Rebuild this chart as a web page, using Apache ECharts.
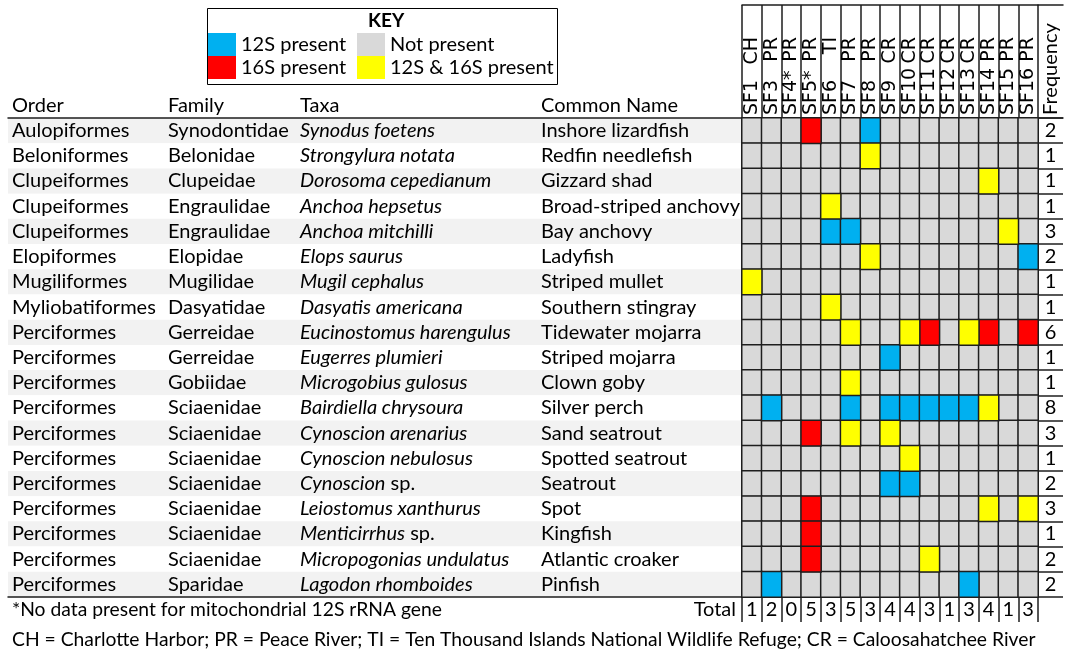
<!DOCTYPE html>
<html>
<head>
<meta charset="utf-8">
<script src="https://cdn.jsdelivr.net/npm/echarts@6/dist/echarts.min.js"></script>
<style>
  html, body { margin: 0; padding: 0; background: #fff; }
  #main { width: 1074px; height: 653px; }
</style>
</head>
<body>
<div id="main"></div>
<script>
// ---- data ----
const orders = ['Aulopiformes', 'Beloniformes', 'Clupeiformes', 'Clupeiformes', 'Clupeiformes', 'Elopiformes',
  'Mugiliformes', 'Myliobatiformes', 'Perciformes', 'Perciformes', 'Perciformes', 'Perciformes', 'Perciformes',
  'Perciformes', 'Perciformes', 'Perciformes', 'Perciformes', 'Perciformes', 'Perciformes']
const families = ['Synodontidae', 'Belonidae', 'Clupeidae', 'Engraulidae', 'Engraulidae', 'Elopidae', 'Mugilidae',
  'Dasyatidae', 'Gerreidae', 'Gerreidae', 'Gobiidae', 'Sciaenidae', 'Sciaenidae', 'Sciaenidae', 'Sciaenidae',
  'Sciaenidae', 'Sciaenidae', 'Sciaenidae', 'Sparidae']
const taxa = ['Synodus foetens', 'Strongylura notata', 'Dorosoma cepedianum', 'Anchoa hepsetus', 'Anchoa mitchilli',
  'Elops saurus', 'Mugil cephalus', 'Dasyatis americana', 'Eucinostomus harengulus', 'Eugerres plumieri',
  'Microgobius gulosus', 'Bairdiella chrysoura', 'Cynoscion arenarius', 'Cynoscion nebulosus', 'Cynoscion sp.',
  'Leiostomus xanthurus', 'Menticirrhus sp.', 'Micropogonias undulatus', 'Lagodon rhomboides']
const commonNames = ['Inshore lizardfish', 'Redfin needlefish', 'Gizzard shad', 'Broad-striped anchovy', 'Bay anchovy',
  'Ladyfish', 'Striped mullet', 'Southern stingray', 'Tidewater mojarra', 'Striped mojarra', 'Clown goby',
  'Silver perch', 'Sand seatrout', 'Spotted seatrout', 'Seatrout', 'Spot', 'Kingfish', 'Atlantic croaker', 'Pinfish']

const sites = ['SF1', 'SF3', 'SF4*', 'SF5*', 'SF6', 'SF7', 'SF8', 'SF9', 'SF10', 'SF11', 'SF12', 'SF13', 'SF14', 'SF15', 'SF16']
const regions = ['CH', 'PR', 'PR', 'PR', 'TI', 'PR', 'PR', 'CR', 'CR', 'CR', 'CR', 'CR', 'PR', 'PR', 'PR']

// 0 = not present, 1 = 12S, 2 = 16S, 3 = 12S & 16S (one string per taxon, one char per site)
const detections = [
  '000200100000000',
  '000000300000000',
  '000000000000300',
  '000030000000000',
  '000011000000030',
  '000000300000001',
  '300000000000000',
  '000030000000000',
  '000003003203202',
  '000000010000000',
  '000003000000000',
  '010001011111300',
  '000203030000000',
  '000000003000000',
  '000000011000000',
  '000200000000303',
  '000200000000000',
  '000200000300000',
  '010000000001000'
]
const frequency = [2, 1, 1, 1, 3, 2, 1, 1, 6, 1, 1, 8, 3, 1, 2, 3, 1, 2, 2]
const totals = [1, 2, 0, 5, 3, 5, 3, 4, 4, 3, 1, 3, 4, 1, 3]

const statusNames = ['Not present', '12S present', '16S present', '12S & 16S present']

// ---- styling ----
const FONT = 'Lato, "Noto Sans", sans-serif'
const HEAD_FONT = '"DejaVu Sans", Lato, sans-serif'
const FS = 20
const LINE = '#1e1e1e'
const statusColors = ['#d9d9d9', '#00b0f0', '#ff0000', '#ffff00']

const chart = echarts.init(document.getElementById('main'))

// one heatmap series per status so the legend doubles as the key
const cellSeries = statusNames.map((name, s) => {
  const data = []
  detections.forEach((row, y) => {
    row.split('').forEach((c, x) => {
      if (+c === s) data.push([x, y, 1])
    })
  })
  return {
    name,
    type: 'heatmap',
    xAxisIndex: 0,
    yAxisIndex: 1,
    data,
    itemStyle: { color: statusColors[s], borderColor: LINE, borderWidth: 1.5 },
    emphasis: { disabled: true },
    z: 3
  }
})

// text column (Order / Family / Taxa / Common Name) as a y axis pushed left
const textAxis = (offset, header, fmt) => ({
  type: 'category',
  gridIndex: 0,
  position: 'left',
  offset,
  inverse: true,
  data: taxa,
  z: 5,
  axisLine: { show: false },
  axisTick: { show: false },
  splitLine: { show: false },
  axisLabel: {
    interval: 0, align: 'left', margin: 0, color: '#000', fontFamily: FONT, fontSize: FS,
    formatter: fmt,
    rich: { i: { fontStyle: 'italic', fontFamily: FONT, fontSize: FS, color: '#000' } }
  },
  name: header,
  nameLocation: 'start',
  nameGap: 2,
  nameTextStyle: { align: 'left', verticalAlign: 'bottom', color: '#000', fontFamily: FONT, fontSize: FS }
})

const italicTaxon = (v, i) => {
  const t = taxa[i]
  if (t.endsWith(' sp.')) return '{i|' + t.slice(0, -4) + '} sp.'
  return '{i|' + t + '}'
}

// key: two stacked legend columns
const keyColumn = (left, names) => ({
  left,
  top: 33,
  orient: 'vertical',
  selectedMode: false,
  icon: 'rect',
  itemWidth: 28,
  itemHeight: 23,
  itemGap: 0,
  padding: 0,
  itemStyle: { borderWidth: 0 },
  textStyle: { fontFamily: FONT, fontSize: FS, color: '#000' },
  data: names
})

const option = {
  backgroundColor: '#fff',
  animation: false,
  // the KEY title also draws the frame round the key
  title: {
    text: 'KEY',
    left: 207,
    top: 8,
    padding: [2, 153, 53, 161],
    borderColor: '#000',
    borderWidth: 1,
    textStyle: { fontFamily: FONT, fontSize: 19, lineHeight: 22, fontWeight: 'bold', color: '#000' }
  },
  legend: [
    keyColumn(208, ['12S present', '16S present']),
    keyColumn(357, ['Not present', '12S & 16S present'])
  ],
  grid: [
    // detection cells
    { left: 742, top: 118, width: 296, height: 479 },
    // frequency column
    { left: 1038, top: 118, width: 25, height: 479 },
    // shaded text rows
    { left: 8, top: 118, width: 734, height: 479 }
  ],
  xAxis: [
    {
      type: 'category', gridIndex: 0, position: 'top', data: sites,
      axisLine: { show: true, lineStyle: { color: LINE, width: 1.5 } },
      axisTick: { show: true, interval: 0, length: 113, lineStyle: { color: LINE, width: 1.5 } },
      axisLabel: {
        interval: 0, rotate: -90, align: 'left', verticalAlign: 'middle', margin: 3,
        formatter: (v, i) => '{a|' + v + '}{b|' + regions[i] + '}',
        rich: {
          a: { width: 50, align: 'left', fontFamily: HEAD_FONT, fontSize: 19, color: '#000' },
          b: { width: 28, align: 'right', fontFamily: HEAD_FONT, fontSize: 19, color: '#000' }
        }
      }
    },
    {
      type: 'category', gridIndex: 0, position: 'top', offset: 113, data: sites,
      axisLine: { show: true, lineStyle: { color: LINE, width: 1.5 } },
      axisTick: { show: false }, axisLabel: { show: false }
    },
    {
      type: 'category', gridIndex: 0, position: 'bottom', data: sites,
      axisLine: { show: true, lineStyle: { color: LINE, width: 1.5 } },
      axisTick: { show: true, interval: 0, length: 25, lineStyle: { color: LINE, width: 1.5 } },
      axisLabel: {
        interval: 0, margin: 3, color: '#000', fontFamily: FONT, fontSize: FS,
        formatter: (v, i) => String(totals[i])
      },
      name: 'Total',
      nameLocation: 'start',
      nameGap: 6,
      nameTextStyle: { verticalAlign: 'top', padding: [3, 0, 0, 0], color: '#000', fontFamily: FONT, fontSize: FS }
    },
    {
      type: 'category', gridIndex: 1, position: 'top', data: ['Frequency'],
      axisLine: { show: true, lineStyle: { color: LINE, width: 1.5 } },
      axisTick: { show: false },
      axisLabel: {
        interval: 0, rotate: -90, align: 'left', verticalAlign: 'middle', margin: 3,
        color: '#000', fontFamily: FONT, fontSize: 20
      }
    },
    {
      type: 'category', gridIndex: 1, position: 'top', offset: 113, data: ['Frequency'],
      axisLine: { show: true, lineStyle: { color: LINE, width: 1.5 } },
      axisTick: { show: false }, axisLabel: { show: false }
    },
    {
      type: 'value', gridIndex: 2, position: 'top', min: 0, max: 1,
      axisLine: { show: true, onZero: false, lineStyle: { color: LINE, width: 1.5 } },
      axisTick: { show: false }, axisLabel: { show: false }, splitLine: { show: false }
    },
    {
      type: 'value', gridIndex: 2, position: 'bottom', min: 0, max: 1,
      axisLine: { show: true, onZero: false, lineStyle: { color: LINE, width: 1.5 } },
      axisTick: { show: false }, axisLabel: { show: false }, splitLine: { show: false }
    }
  ],
  yAxis: [
    // row shading behind the text columns
    {
      type: 'category', gridIndex: 2, inverse: true, data: taxa, z: 0,
      axisLine: { show: false }, axisTick: { show: false }, axisLabel: { show: false },
      splitArea: { show: true, interval: 0, areaStyle: { color: ['#f2f2f2', '#ffffff'] } }
    },
    textAxis(730, 'Order', (v, i) => orders[i]),
    textAxis(574, 'Family', (v, i) => families[i]),
    textAxis(442, 'Taxa', italicTaxon),
    textAxis(201, 'Common Name', (v, i) => commonNames[i]),
    // frequency column
    {
      type: 'category', gridIndex: 1, inverse: true, data: taxa,
      axisLine: { show: false }, axisTick: { show: false },
      splitLine: { show: true, interval: 0, lineStyle: { color: LINE, width: 1.5 } },
      axisLabel: {
        interval: 0, align: 'center', margin: -12.5, color: '#000', fontFamily: FONT, fontSize: FS,
        formatter: (v, i) => String(frequency[i])
      }
    }
  ],
  graphic: [
    {
      type: 'text', left: 12, top: 600,
      style: { text: '*No data present for mitochondrial 12S rRNA gene', fill: '#000', font: '19.3px ' + FONT }
    },
    {
      type: 'text', left: 12, top: 630,
      style: {
        text: 'CH = Charlotte Harbor; PR = Peace River; TI = Ten Thousand Islands National Wildlife Refuge; CR = Caloosahatchee River',
        fill: '#000', font: '19.3px ' + FONT
      }
    }
  ],
  series: cellSeries
}

chart.setOption(option)
</script>
</body>
</html>
